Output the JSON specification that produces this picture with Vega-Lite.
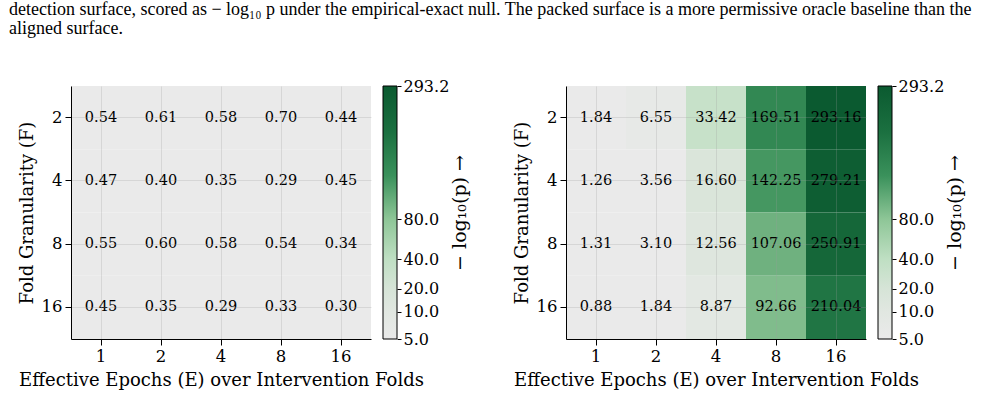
{
  "$schema": "https://vega.github.io/schema/vega-lite/v6.json",
  "background": "white",
  "padding": {"left": 9, "top": 1, "right": 5, "bottom": 5},
  "title": {
    "text": ["detection surface, scored as − log₁₀ p under the empirical-exact null. The packed surface is a more permissive oracle baseline than the", "aligned surface."],
    "anchor": "start",
    "frame": "bounds",
    "dx": -9,
    "offset": 40,
    "font": "Liberation Serif",
    "fontSize": 18,
    "fontWeight": "normal",
    "lineHeight": 19,
    "color": "black"
  },
  "datasets": {
    "aligned": [
      {"E": 1, "F": 2, "P": 0.54}, {"E": 2, "F": 2, "P": 0.61}, {"E": 4, "F": 2, "P": 0.58}, {"E": 8, "F": 2, "P": 0.70}, {"E": 16, "F": 2, "P": 0.44},
      {"E": 1, "F": 4, "P": 0.47}, {"E": 2, "F": 4, "P": 0.40}, {"E": 4, "F": 4, "P": 0.35}, {"E": 8, "F": 4, "P": 0.29}, {"E": 16, "F": 4, "P": 0.45},
      {"E": 1, "F": 8, "P": 0.55}, {"E": 2, "F": 8, "P": 0.60}, {"E": 4, "F": 8, "P": 0.58}, {"E": 8, "F": 8, "P": 0.54}, {"E": 16, "F": 8, "P": 0.34},
      {"E": 1, "F": 16, "P": 0.45}, {"E": 2, "F": 16, "P": 0.35}, {"E": 4, "F": 16, "P": 0.29}, {"E": 8, "F": 16, "P": 0.33}, {"E": 16, "F": 16, "P": 0.30}
    ],
    "packed": [
      {"E": 1, "F": 2, "P": 1.84}, {"E": 2, "F": 2, "P": 6.55}, {"E": 4, "F": 2, "P": 33.42}, {"E": 8, "F": 2, "P": 169.51}, {"E": 16, "F": 2, "P": 293.16},
      {"E": 1, "F": 4, "P": 1.26}, {"E": 2, "F": 4, "P": 3.56}, {"E": 4, "F": 4, "P": 16.60}, {"E": 8, "F": 4, "P": 142.25}, {"E": 16, "F": 4, "P": 279.21},
      {"E": 1, "F": 8, "P": 1.31}, {"E": 2, "F": 8, "P": 3.10}, {"E": 4, "F": 8, "P": 12.56}, {"E": 8, "F": 8, "P": 107.06}, {"E": 16, "F": 8, "P": 250.91},
      {"E": 1, "F": 16, "P": 0.88}, {"E": 2, "F": 16, "P": 1.84}, {"E": 4, "F": 16, "P": 8.87}, {"E": 8, "F": 16, "P": 92.66}, {"E": 16, "F": 16, "P": 210.04}
    ],
    "cbar": [{"lo": 5, "hi": 293.2}]
  },
  "config": {
    "font": "DejaVu Serif",
    "view": {"stroke": null},
    "axis": {
      "labelFont": "DejaVu Serif",
      "titleFont": "DejaVu Serif",
      "labelFontSize": 16.5,
      "titleFontSize": 18,
      "titleFontWeight": "normal",
      "labelColor": "black",
      "titleColor": "black",
      "domainColor": "black",
      "tickColor": "black",
      "tickSize": 6,
      "labelPadding": 3
    }
  },
  "spacing": 43,
  "hconcat": [
    {
      "bounds": "flush",
      "spacing": 12,
      "hconcat": [
        {
          "width": 300,
          "height": 253,
          "data": {"name": "aligned"},
          "encoding": {
            "x": {"field": "E", "type": "ordinal", "scale": {"paddingInner": 0, "paddingOuter": 0},
                  "axis": {"title": "Effective Epochs (E) over Intervention Folds", "labelAngle": 0, "grid": true, "gridColor": "#9a9a9a", "gridOpacity": 0.25, "zindex": 1, "titlePadding": 7}},
            "y": {"field": "F", "type": "ordinal", "scale": {"paddingInner": 0, "paddingOuter": 0},
                  "axis": {"title": "Fold Granularity (F)", "grid": true, "gridColor": "#9a9a9a", "gridOpacity": 0.25, "zindex": 1, "titlePadding": 5}}
          },
          "layer": [
            {"mark": {"type": "rect"},
             "encoding": {"color": {"field": "P", "type": "quantitative", "legend": null,
               "scale": {"domain": [5, 10, 20, 40, 80, 150, 220, 293.2],
                         "range": ["#eaeaea", "#e1e7e1", "#d6e4d7", "#bfdfc3", "#8ec697", "#3a915b", "#1b7040", "#0b5a30"],
                         "clamp": true, "zero": false, "nice": false}}}},
            {"mark": {"type": "text", "fontSize": 14.5, "color": "black", "font": "DejaVu Serif"},
             "encoding": {"text": {"field": "P", "type": "quantitative", "format": ".2f"}}}
          ]
        },
        {
          "width": 14,
          "height": 253,
          "data": {"name": "cbar"},
          "mark": {"type": "rect", "stroke": "black", "strokeWidth": 1,
            "fill": {"gradient": "linear", "x1": 0, "y1": 1, "x2": 0, "y2": 0,
              "stops": [
                {"offset": 0, "color": "#eaeaea"},
                {"offset": 0.108, "color": "#e1e7e1"},
                {"offset": 0.199, "color": "#d6e4d7"},
                {"offset": 0.315, "color": "#bfdfc3"},
                {"offset": 0.473, "color": "#8ec697"},
                {"offset": 0.646, "color": "#3a915b"},
                {"offset": 0.819, "color": "#1b7040"},
                {"offset": 1, "color": "#0b5a30"}
              ]}},
          "encoding": {
            "y": {"field": "lo", "type": "quantitative",
                  "scale": {"domain": [5, 10, 20, 40, 80, 293.2], "range": [253, 225.7, 202.7, 173.3, 133.3, 0], "zero": false, "nice": false},
                  "axis": {"orient": "right", "values": [5, 10, 20, 40, 80, 293.2], "format": ".1f", "domain": false, "grid": false, "tickSize": 4, "labelPadding": 2, "labelFontSize": 16, "labelOverlap": false, "title": "− log₁₀(p)  →", "titleFontSize": 19, "titleAngle": 270, "titleBaseline": "top", "titlePadding": 2}},
            "y2": {"field": "hi"}
          }
        }
      ]
    },
    {
      "bounds": "flush",
      "spacing": 12,
      "hconcat": [
        {
          "width": 300,
          "height": 253,
          "data": {"name": "packed"},
          "encoding": {
            "x": {"field": "E", "type": "ordinal", "scale": {"paddingInner": 0, "paddingOuter": 0},
                  "axis": {"title": "Effective Epochs (E) over Intervention Folds", "labelAngle": 0, "grid": true, "gridColor": "#9a9a9a", "gridOpacity": 0.25, "zindex": 1, "titlePadding": 7}},
            "y": {"field": "F", "type": "ordinal", "scale": {"paddingInner": 0, "paddingOuter": 0},
                  "axis": {"title": "Fold Granularity (F)", "grid": true, "gridColor": "#9a9a9a", "gridOpacity": 0.25, "zindex": 1, "titlePadding": 5}}
          },
          "layer": [
            {"mark": {"type": "rect"},
             "encoding": {"color": {"field": "P", "type": "quantitative", "legend": null,
               "scale": {"domain": [5, 10, 20, 40, 80, 150, 220, 293.2],
                         "range": ["#eaeaea", "#e1e7e1", "#d6e4d7", "#bfdfc3", "#8ec697", "#3a915b", "#1b7040", "#0b5a30"],
                         "clamp": true, "zero": false, "nice": false}}}},
            {"mark": {"type": "text", "fontSize": 14.5, "color": "black", "font": "DejaVu Serif"},
             "encoding": {"text": {"field": "P", "type": "quantitative", "format": ".2f"}}}
          ]
        },
        {
          "width": 14,
          "height": 253,
          "data": {"name": "cbar"},
          "mark": {"type": "rect", "stroke": "black", "strokeWidth": 1,
            "fill": {"gradient": "linear", "x1": 0, "y1": 1, "x2": 0, "y2": 0,
              "stops": [
                {"offset": 0, "color": "#eaeaea"},
                {"offset": 0.108, "color": "#e1e7e1"},
                {"offset": 0.199, "color": "#d6e4d7"},
                {"offset": 0.315, "color": "#bfdfc3"},
                {"offset": 0.473, "color": "#8ec697"},
                {"offset": 0.646, "color": "#3a915b"},
                {"offset": 0.819, "color": "#1b7040"},
                {"offset": 1, "color": "#0b5a30"}
              ]}},
          "encoding": {
            "y": {"field": "lo", "type": "quantitative",
                  "scale": {"domain": [5, 10, 20, 40, 80, 293.2], "range": [253, 225.7, 202.7, 173.3, 133.3, 0], "zero": false, "nice": false},
                  "axis": {"orient": "right", "values": [5, 10, 20, 40, 80, 293.2], "format": ".1f", "domain": false, "grid": false, "tickSize": 4, "labelPadding": 2, "labelFontSize": 16, "labelOverlap": false, "title": "− log₁₀(p)  →", "titleFontSize": 19, "titleAngle": 270, "titleBaseline": "top", "titlePadding": 2}},
            "y2": {"field": "hi"}
          }
        }
      ]
    }
  ],
  "resolve": {"scale": {"color": "independent"}}
}
